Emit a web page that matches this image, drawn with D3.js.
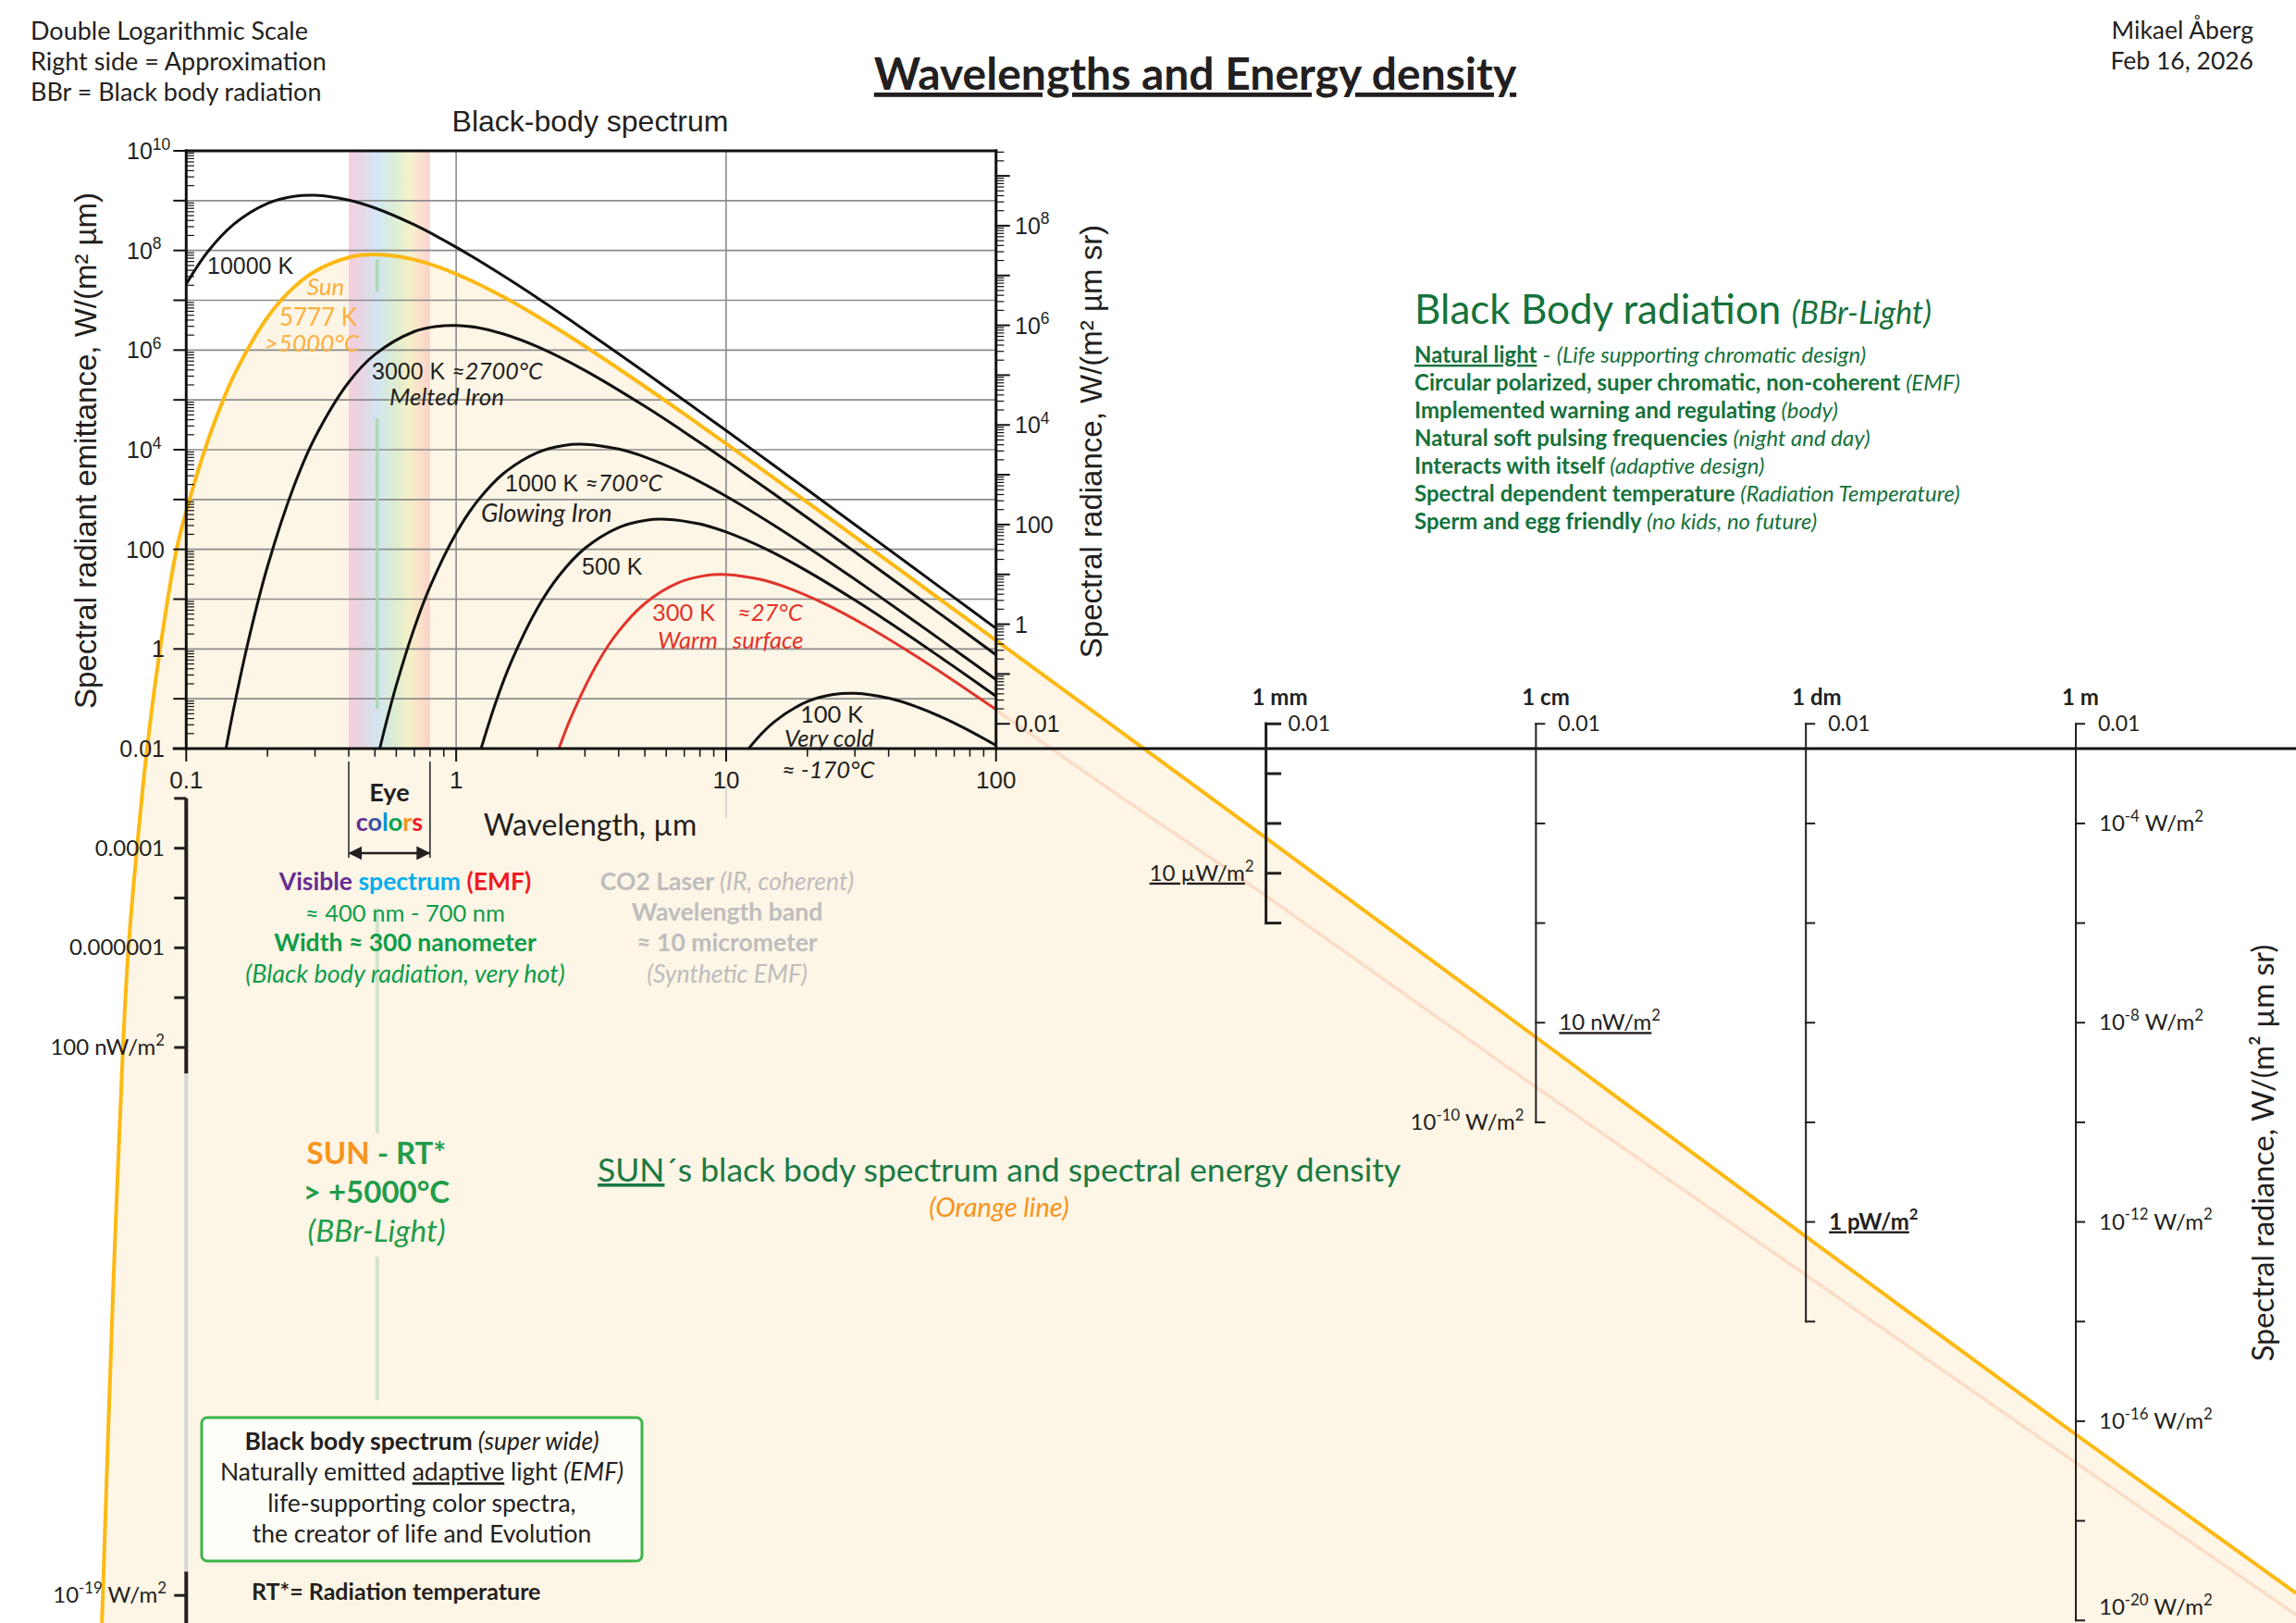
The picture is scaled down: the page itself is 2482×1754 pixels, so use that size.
<!DOCTYPE html>
<html><head><meta charset="utf-8">
<script src="https://cdn.jsdelivr.net/npm/d3@7/dist/d3.min.js"></script>
<style>html,body{margin:0;padding:0;background:#fff}svg{display:block}</style>
</head><body>
<svg id="chart" width="2482" height="1754" xmlns="http://www.w3.org/2000/svg"></svg>
<script>
// ================= DATA =================
const wavelengthTicks = [0.1, 1, 10, 100];
const wavelengthTickLabels = ['0.1', '1', '10', '100'];
const emittanceTicks = [1e10, 1e8, 1e6, 1e4, 100, 1, 0.01];
const emittanceTickLabels = [['10','10'], ['10','8'], ['10','6'], ['10','4'], ['100'], ['1'], ['0.01']];
const radianceTicks = [1e8, 1e6, 1e4, 100, 1, 0.01];
const radianceTickLabels = [['10','8'], ['10','6'], ['10','4'], ['100'], ['1'], ['0.01']];

// black-body curves: [wavelength µm, spectral radiant emittance W/(m² µm)]
const bb10000K = [[0.1,2.11e7],[0.12,9.34e7],[0.15,3.36e8],[0.2,8.79e8],[0.25,1.217e9],[0.3,1.283e9],[0.4,1.029e9],[0.5,7.13e8],[0.7,3.27e8],[1,1.163e8],[1.5,3.06e7],[2,1.11e7],[3,2.5e6],[5,3.59e5],[7,9.75e4],[10,2.42e4],[15,4893],[20,1567],[30,313.5],[50,41.0],[70,10.72],[100,2.582]];
const sunSpectrum = [[0.0487,2.8e-20],[0.0491,1e-19],[0.0535,1e-13],[0.0583,1e-8],[0.0611,1e-6],[0.0657,1e-4],[0.0716,0.01],[0.080,1.0],[0.0922,103],
  [0.1,571],[0.11,3416],[0.12,1.46e4],[0.13,4.8e4],[0.15,3.04e5],[0.2,4.57e6],[0.25,1.81e7],[0.3,3.82e7],[0.4,7.24e7],[0.5,8.28e7],[0.7,6.53e7],[1,3.38e7],[1.5,1.157e7],[2,4.72e6],[3,1.19e6],[5,1.854e5],[7,5.21e4],[10,1.323e4],[15,2728],[20,881.6],[30,177.9],[50,23.44],[70,6.146],[100,1.484],
  [200,0.095],[500,2.5e-3],[1000,1.6e-4],[1e4,1.6e-8],[1e5,1.6e-12],[1e6,1.7e-16],[6.55e6,1.1e-19]];
const bb3000K = [[0.14,9.15e-3],[0.15,0.0642],[0.17,1.47],[0.2,45.1],[0.25,1790],[0.3,1.758e4],[0.4,2.27e5],[0.5,8.17e5],[0.7,2.36e6],[0.85,3.0e6],[1,3.12e6],[1.2,2.82e6],[1.5,2.10e6],[2,1.169e6],[3,3.9e5],[5,7.44e4],[7,2.262e4],[10,6080],[15,1308],[20,431],[30,88.8],[50,11.89],[70,3.14],[100,0.762]];
const bb1000K = [[0.52,9.5e-3],[0.55,0.0323],[0.6,0.186],[0.7,2.65],[0.8,17.7],[1,211],[1.2,934],[1.5,3363],[2,8790],[2.5,1.217e4],[3,1.283e4],[4,1.029e4],[5,7134],[7,3269],[10,1163],[15,306],[20,111],[30,25.0],[50,3.59],[70,0.975],[100,0.2419]];
const bb500K = [[1.2,5.8e-3],[1.4,0.0828],[1.6,0.553],[2,6.59],[2.4,29.2],[3,105],[4,275],[5,380],[6,401],[8,322],[10,223],[14,102],[20,36.3],[30,9.56],[40,3.47],[50,1.54],[60,0.781],[70,0.438],[100,0.112]];
const bb300K = [[2.333,6.44e-3],[2.667,0.043],[3.333,0.513],[4,2.27],[5,8.17],[6.667,21.4],[8.333,29.6],[10,31.2],[13.33,25.0],[16.67,17.3],[23.33,7.94],[33.33,2.83],[50,0.744],[66.67,0.270],[100,0.0608]];
const bb100K = [[10,2.11e-3],[12,9.34e-3],[15,0.0336],[20,0.0879],[25,0.1217],[30,0.1283],[40,0.1029],[50,0.0713],[70,0.0327],[100,0.01163]];
const faintEcho = [[100,0.06],[264.7,1.5e-3],[1000,1.1e-5],[1e4,1.6e-9],[1e5,2.7e-13],[1e6,4.6e-17],[6.55e6,4.1e-20]];

// extended left emittance axis
const lowerEmittanceTicks = [1e-3, 1e-4, 1e-5, 1e-6, 1e-7, 1e-8];
const lowerEmittanceLabels = [[1e-4, '0.0001'], [1e-6, '0.000001'], [1e-8, '100 nW/m', '2']];

// distance scales (radiance, W/(m² µm sr))
const scaleAxes = [
  {name:'1 mm', at:1e3, ticks:[1e-2,1e-3,1e-4,1e-5,1e-6], heavy:true},
  {name:'1 cm', at:1e4, ticks:[1e-2,1e-4,1e-6,1e-8,1e-10]},
  {name:'1 dm', at:1e5, ticks:[1e-2,1e-4,1e-6,1e-8,1e-10,1e-12,1e-14]},
  {name:'1 m',  at:1e6, ticks:[1e-2,1e-4,1e-6,1e-8,1e-10,1e-12,1e-14,1e-16,1e-18,1e-20]}
];
const scaleTickLabels = [
  {at:1e3, v:1e-5,  side:-1, parts:[{t:'10 µW/m',u:true},{t:'2',sup:true}]},
  {at:1e4, v:1e-8,  side:1,  parts:[{t:'10 nW/m',u:true},{t:'2',sup:true}]},
  {at:1e4, v:1e-10, side:-1, parts:[{t:'10'},{t:'-10',sup:true},{t:' W/m'},{t:'2',sup:true}]},
  {at:1e5, v:1e-12, side:1,  parts:[{t:'1 pW/m',u:true,b:true},{t:'2',sup:true,b:true}]},
  {at:1e6, v:1e-4,  side:1,  parts:[{t:'10'},{t:'-4',sup:true},{t:' W/m'},{t:'2',sup:true}]},
  {at:1e6, v:1e-8,  side:1,  parts:[{t:'10'},{t:'-8',sup:true},{t:' W/m'},{t:'2',sup:true}]},
  {at:1e6, v:1e-12, side:1,  parts:[{t:'10'},{t:'-12',sup:true},{t:' W/m'},{t:'2',sup:true}]},
  {at:1e6, v:1e-16, side:1,  parts:[{t:'10'},{t:'-16',sup:true},{t:' W/m'},{t:'2',sup:true}]},
  {at:1e6, v:1e-20, side:1,  raise:true, parts:[{t:'10'},{t:'-20',sup:true},{t:' W/m'},{t:'2',sup:true}]}
];

const bbrFeatures = [
  [{t:'Natural light',u:true,b:true},{t:' - '},{t:'(Life supporting chromatic design)',i:true}],
  [{t:'Circular polarized, super chromatic, non-coherent ',b:true},{t:'(EMF)',i:true}],
  [{t:'Implemented warning and regulating ',b:true},{t:'(body)',i:true}],
  [{t:'Natural soft pulsing frequencies ',b:true},{t:'(night and day)',i:true}],
  [{t:'Interacts with itself ',b:true},{t:'(adaptive design)',i:true}],
  [{t:'Spectral dependent temperature ',b:true},{t:'(Radiation Temperature)',i:true}],
  [{t:'Sperm and egg friendly ',b:true},{t:'(no kids, no future)',i:true}]
];

// ================= SETUP =================
const W = 2482, H = 1754;
const svg = d3.select('#chart');
const FM = "Lato, 'Open Sans', 'DejaVu Sans', sans-serif";
const FA = "'Liberation Sans', Arial, sans-serif";
const INK = '#231f20';
const DGREEN = '#15723c', GREEN = '#0f9d4a', ORANGE = '#f7941d';

const x = d3.scaleLog().domain([0.1, 1e6]).range([201.3, 2244]);
const y = d3.scaleLog().domain([1e-2, 1e10]).range([809, 163]);
const yRad = d3.scaleLog().domain([1e-2 / Math.PI, 1e10 / Math.PI]).range([809, 163]);
const X0 = x(0.1), X1 = x(100), Y0 = y(0.01), Y1 = y(1e10);

function T(g, px, py, parts, o = {}) {
  const size = o.size || 24;
  const t = g.append('text').attr('x', px).attr('y', py)
    .attr('font-family', o.family || FM).attr('font-size', size)
    .attr('fill', o.fill || INK).attr('text-anchor', o.anchor || 'start');
  if (o.weight) t.attr('font-weight', o.weight);
  if (o.italic) t.attr('font-style', 'italic');
  if (o.rotate) t.attr('transform', `rotate(${o.rotate} ${px} ${py})`);
  let shift = 0;
  (Array.isArray(parts) ? parts : [parts]).forEach(p => {
    if (typeof p === 'string') p = {t: p};
    const s = t.append('tspan').text(p.t);
    if (p.fill) s.attr('fill', p.fill);
    if (p.b) s.attr('font-weight', 700);
    if (p.n) s.attr('font-weight', 400);
    if (p.i) s.attr('font-style', 'italic');
    if (p.u) s.attr('text-decoration', 'underline');
    if (p.f) s.attr('font-family', p.f);
    if (p.size) s.attr('font-size', p.size);
    const want = p.sup ? -size * 0.42 : 0;
    if (want !== shift) { s.attr('dy', want - shift); shift = want; }
    if (p.sup) s.attr('font-size', size * 0.7);
  });
  return t;
}

const defs = svg.append('defs');
defs.append('clipPath').attr('id', 'insetClip').append('rect')
  .attr('x', X0).attr('y', Y1).attr('width', X1 - X0).attr('height', Y0 - Y1);
const grad = defs.append('linearGradient').attr('id', 'rainbow').attr('x1', '0').attr('x2', '1').attr('y1', '0').attr('y2', '0');
[['0%','#f3c4d7'],['18%','#dfcfe4'],['36%','#c8e2f3'],['55%','#d2eacd'],['75%','#f2efc0'],['90%','#fbd8c3'],['100%','#f8c9c3']]
  .forEach(([o, c]) => grad.append('stop').attr('offset', o).attr('stop-color', c));
defs.append('marker').attr('id', 'arr').attr('viewBox', '0 0 10 10').attr('refX', 9).attr('refY', 5)
  .attr('markerWidth', 6).attr('markerHeight', 6).attr('orient', 'auto-start-reverse')
  .append('path').attr('d', 'M0,0 L10,5 L0,10 z').attr('fill', INK);

svg.append('rect').attr('width', W).attr('height', H).attr('fill', '#fff');

const line = d3.line().x(d => x(d[0])).y(d => y(d[1])).curve(d3.curveCatmullRom.alpha(0.5));
const area = d3.area().x(d => x(d[0])).y0(H).y1(d => y(d[1])).curve(d3.curveCatmullRom.alpha(0.5));

// cream fill under the Sun curve
svg.append('path').datum(sunSpectrum).attr('d', area).attr('fill', '#fdf5e5');

// visible band
svg.append('rect').attr('x', x(0.4)).attr('y', Y1).attr('width', x(0.8) - x(0.4)).attr('height', Y0 - Y1)
  .attr('fill', 'url(#rainbow)').attr('opacity', 0.8);

// grid
const grid = svg.append('g').attr('stroke', '#8c8c8c').attr('stroke-width', 1.6);
d3.range(-1, 10).forEach(e => grid.append('line').attr('x1', X0).attr('x2', X1).attr('y1', y(Math.pow(10, e))).attr('y2', y(Math.pow(10, e))));
[1, 10].forEach(v => grid.append('line').attr('x1', x(v)).attr('x2', x(v)).attr('y1', Y1).attr('y2', Y0));

// light green marker segments at ~0.51 µm
const markerInset = [[6.5e7, 1.45e7], [4.3e4, 0.063]];
const markerLower = [[6.4e-6, 1.9e-10], [6.3e-13, 8.3e-16]];
markerInset.forEach(([a, b]) => svg.append('line').attr('x1', x(0.51)).attr('x2', x(0.51)).attr('y1', y(a)).attr('y2', y(b))
  .attr('stroke', '#a8d4ad').attr('stroke-width', 4).attr('opacity', 0.75));
markerLower.forEach(([a, b]) => svg.append('line').attr('x1', x(0.51)).attr('x2', x(0.51)).attr('y1', y(a)).attr('y2', y(b))
  .attr('stroke', '#d4e2cb').attr('stroke-width', 4));
svg.append('line').attr('x1', x(10)).attr('x2', x(10)).attr('y1', y(2e-3)).attr('y2', y(4e-4)).attr('stroke', '#cfcfcf').attr('stroke-width', 1.5);

// faint echo line
svg.append('path').datum(faintEcho).attr('d', line).attr('fill', 'none').attr('stroke', '#fbdcc6').attr('stroke-width', 3.5);

// curves
const curves = svg.append('g').attr('clip-path', 'url(#insetClip)').attr('fill', 'none').attr('stroke-width', 3);
[[bb10000K, '#111'], [bb3000K, '#111'], [bb1000K, '#111'], [bb500K, '#111'], [bb300K, '#e2342b'], [bb100K, '#111']]
  .forEach(([d, c]) => curves.append('path').datum(d).attr('d', line).attr('stroke', c));
svg.append('path').datum(sunSpectrum).attr('d', line).attr('fill', 'none').attr('stroke', '#fdb913').attr('stroke-width', 4);

// ================= INSET AXES =================
const ax = svg.append('g').attr('stroke', '#111').attr('stroke-linecap', 'square');
ax.append('line').attr('x1', X0).attr('x2', X1).attr('y1', Y1).attr('y2', Y1).attr('stroke-width', 3);
ax.append('line').attr('x1', X0).attr('x2', X0).attr('y1', Y1).attr('y2', Y0).attr('stroke-width', 3);
ax.append('line').attr('x1', X1).attr('x2', X1).attr('y1', Y1).attr('y2', Y0).attr('stroke-width', 3);
ax.append('line').attr('x1', X0 - 13).attr('x2', W).attr('y1', Y0).attr('y2', Y0).attr('stroke-width', 3);
d3.range(-2, 11).forEach(e => ax.append('line').attr('x1', X0 - 13).attr('x2', X0).attr('y1', y(Math.pow(10, e))).attr('y2', y(Math.pow(10, e))).attr('stroke-width', 2));
d3.range(-2, 10).forEach(e => d3.range(2, 10).forEach(k => {
  const yy = y(k * Math.pow(10, e));
  ax.append('line').attr('x1', X0).attr('x2', X0 + 8).attr('y1', yy).attr('y2', yy).attr('stroke-width', 1.2);
}));
d3.range(-2, 10).forEach(e => {
  const yy = yRad(Math.pow(10, e));
  if (yy >= Y1 && yy <= Y0) ax.append('line').attr('x1', X1).attr('x2', X1 + 14).attr('y1', yy).attr('y2', yy).attr('stroke-width', 2);
  d3.range(2, 10).forEach(k => {
    const y2 = yRad(k * Math.pow(10, e));
    if (y2 >= Y1 && y2 <= Y0) ax.append('line').attr('x1', X1).attr('x2', X1 + 8).attr('y1', y2).attr('y2', y2).attr('stroke-width', 1.2);
  });
});
d3.range(-1, 2).forEach(e => d3.range(2, 10).forEach(k => {
  const xx = x(k * Math.pow(10, e));
  ax.append('line').attr('x1', xx).attr('x2', xx).attr('y1', Y0).attr('y2', Y0 + 8).attr('stroke-width', 1.5);
}));
wavelengthTicks.forEach(v => ax.append('line').attr('x1', x(v)).attr('x2', x(v)).attr('y1', Y0).attr('y2', Y0 + 13).attr('stroke-width', 2));

// ================= EXTENDED LEFT AXIS =================
const la = svg.append('g').attr('stroke', INK);
la.append('line').attr('x1', X0).attr('x2', X0).attr('y1', y(1e-3)).attr('y2', y(3e-9)).attr('stroke-width', 4);
la.append('line').attr('x1', X0).attr('x2', X0).attr('y1', y(3e-9)).attr('y2', y(3e-19)).attr('stroke', '#d6d6d6').attr('stroke-width', 4);
la.append('line').attr('x1', X0).attr('x2', X0).attr('y1', y(3e-19)).attr('y2', H).attr('stroke-width', 4);
lowerEmittanceTicks.concat([1e-19]).forEach(v => la.append('line').attr('x1', X0 - 13).attr('x2', X0).attr('y1', y(v)).attr('y2', y(v)).attr('stroke-width', 3));

// ================= DISTANCE SCALES (marks) =================
scaleAxes.forEach(a => {
  const xx = x(a.at);
  const g = svg.append('g').attr('stroke', INK).attr('stroke-linecap', 'square');
  const sw = a.heavy ? 3 : 2;
  g.append('line').attr('x1', xx).attr('x2', xx).attr('y1', yRad(a.ticks[0])).attr('y2', yRad(a.ticks[a.ticks.length - 1])).attr('stroke-width', sw);
  a.ticks.forEach(v => g.append('line').attr('x1', xx).attr('x2', xx + (a.heavy ? 15 : 9)).attr('y1', yRad(v)).attr('y2', yRad(v)).attr('stroke-width', sw));
});

// eye-colors bracket
const eg = svg.append('g').attr('stroke', INK).attr('stroke-width', 1.5);
[0.4, 0.8].forEach(v => eg.append('line').attr('x1', x(v)).attr('x2', x(v)).attr('y1', Y0 + 14).attr('y2', Y0 + 118));
eg.append('line').attr('x1', x(0.4) + 1).attr('x2', x(0.8) - 1).attr('y1', y(8e-5)).attr('y2', y(8e-5)).attr('stroke-width', 2.5)
  .attr('marker-start', 'url(#arr)').attr('marker-end', 'url(#arr)');

// green framed box (behind its text)
svg.append('rect').attr('x', 218).attr('y', 1532).attr('width', 476).attr('height', 155).attr('rx', 6)
  .attr('fill', '#fffdf8').attr('stroke', '#3db54a').attr('stroke-width', 3);

// ================= TEXT =================
const lab = svg.append('g');
emittanceTicks.forEach((v, i) => {
  const L = emittanceTickLabels[i];
  if (L.length === 2) T(lab, 137, y(v) + 9, [{t: L[0]}, {t: L[1], sup: true}], {family: FA, size: 25});
  else T(lab, 178, y(v) + 9, L[0], {family: FA, size: 25, anchor: 'end'});
});
radianceTicks.forEach((v, i) => {
  const L = radianceTickLabels[i];
  T(lab, 1097, yRad(v) + 9, L.length === 2 ? [{t: L[0]}, {t: L[1], sup: true}] : L[0], {family: FA, size: 25});
});
wavelengthTicks.forEach((v, i) => T(lab, x(v), 852, wavelengthTickLabels[i], {family: FA, size: 26, anchor: 'middle'}));

T(lab, 638, 142, 'Black-body spectrum', {family: FA, size: 32, anchor: 'middle'});
T(lab, 104, 487, 'Spectral radiant emittance, W/(m² µm)', {family: FA, size: 33, anchor: 'middle', rotate: -90});
T(lab, 1191, 477, 'Spectral radiance, W/(m² µm sr)', {family: FA, size: 33, anchor: 'middle', rotate: -90});
T(lab, 638, 903, 'Wavelength, µm', {size: 32, anchor: 'middle'});

T(lab, 224, 296, '10000 K', {family: FA, size: 25});
T(lab, 352, 319, 'Sun', {size: 26, anchor: 'middle', italic: true, fill: '#fbb040'});
T(lab, 344, 352, '5777 K', {size: 26, anchor: 'middle', fill: '#fbb040'});
T(lab, 337, 380, '>5000°C', {size: 26, anchor: 'middle', italic: true, fill: '#fbb040'});
T(lab, 402, 410, [{t: '3000 K ', f: FA}, {t: '≈2700°C', i: true}], {size: 25});
T(lab, 421, 438, 'Melted Iron', {size: 26, italic: true});
T(lab, 546, 531, [{t: '1000 K ', f: FA}, {t: '≈700°C', i: true}], {size: 25});
T(lab, 520, 564, 'Glowing Iron', {size: 27, italic: true});
T(lab, 629, 621, '500 K', {family: FA, size: 25});
T(lab, 705, 671, '300 K', {size: 25.5, fill: '#e2342b'});
T(lab, 797, 671, '≈27°C', {size: 25.5, italic: true, fill: '#e2342b'});
T(lab, 711, 701, 'Warm', {size: 25.5, italic: true, fill: '#e2342b'});
T(lab, 792, 701, 'surface', {size: 25.5, italic: true, fill: '#e2342b'});
T(lab, 865, 781, '100 K', {size: 25.5});
T(lab, 848, 807, 'Very cold', {size: 25.5, italic: true});
T(lab, 845, 841, '≈ -170°C', {size: 25.5, italic: true});

lowerEmittanceLabels.forEach(L => {
  T(lab, 178, y(L[0]) + 8, L.length === 3 ? [{t: L[1]}, {t: L[2], sup: true}] : L[1], {size: 24, anchor: 'end'});
});
T(lab, 180, y(1e-19) + 8, [{t: '10'}, {t: '-19', sup: true}, {t: ' W/m'}, {t: '2', sup: true}], {size: 24, anchor: 'end'});

scaleAxes.forEach(a => {
  const xx = x(a.at);
  T(lab, xx - 15, 762, a.name, {size: 24, weight: 700});
  T(lab, xx + 24, yRad(0.01) + 8, '0.01', {size: 23});
});
scaleTickLabels.forEach(L => {
  const xx = x(L.at) + (L.side > 0 ? 25 : -13);
  T(lab, xx, yRad(L.v) + (L.raise ? -6 : 8), L.parts, {size: 24, anchor: L.side > 0 ? 'start' : 'end'});
});
T(lab, 2458, 1246, 'Spectral radiance, W/(m² µm sr)', {size: 32.5, anchor: 'middle', rotate: -90});

const EYEX = (x(0.4) + x(0.8)) / 2;
T(lab, EYEX, 866, 'Eye', {size: 27, anchor: 'middle', weight: 700});
T(lab, EYEX, 898, [{t: 'c', fill: '#662d91'}, {t: 'o', fill: '#3a53a4'}, {t: 'l', fill: '#0095da'}, {t: 'o', fill: '#00a651'}, {t: 'r', fill: '#f7941d'}, {t: 's', fill: '#ed1c24'}], {size: 27, anchor: 'middle', weight: 700});

T(lab, 438, 962, [{t: 'Visible ', fill: '#662d91'}, {t: 'spectrum ', fill: '#00aeef'}, {t: '(EMF)', fill: '#ed1c24'}], {size: 26.5, anchor: 'middle', weight: 700});
T(lab, 438, 996, '≈ 400 nm - 700 nm', {size: 25.5, anchor: 'middle', fill: GREEN});
T(lab, 438, 1028, 'Width ≈ 300 nanometer', {size: 26.5, anchor: 'middle', fill: GREEN, weight: 700});
T(lab, 438, 1062, '(Black body radiation, very hot)', {size: 27, anchor: 'middle', fill: GREEN, italic: true});

const GR = '#bdbdbd';
T(lab, 786, 962, [{t: 'CO2 Laser ', b: true}, {t: '(IR, coherent)', i: true}], {size: 26.5, anchor: 'middle', fill: GR});
T(lab, 786, 995, 'Wavelength band', {size: 26.5, anchor: 'middle', fill: GR, weight: 700});
T(lab, 786, 1028, '≈ 10 micrometer', {size: 26.5, anchor: 'middle', fill: GR, weight: 700});
T(lab, 786, 1062, '(Synthetic EMF)', {size: 26.5, anchor: 'middle', fill: GR, italic: true});

T(lab, 407, 1258, [{t: 'SUN', fill: ORANGE}, {t: ' - RT*', fill: '#1f9d4c'}], {size: 33, anchor: 'middle', weight: 700});
T(lab, 407, 1300, '> +5000°C', {size: 33, anchor: 'middle', weight: 700, fill: '#1f9d4c'});
T(lab, 407, 1342, '(BBr-Light)', {size: 33.5, anchor: 'middle', italic: true, fill: '#1f9d4c'});

T(lab, 646, 1277, [{t: 'SUN', u: true}, {t: '´s black body spectrum and spectral energy density'}], {size: 35.5, fill: '#1b7a43'});
T(lab, 1080, 1315, '(Orange line)', {size: 29, anchor: 'middle', italic: true, fill: ORANGE});

T(lab, 456, 1567, [{t: 'Black body spectrum', b: true}, {t: ' (super wide)', i: true}], {size: 26.5, anchor: 'middle'});
T(lab, 456, 1600, [{t: 'Naturally emitted '}, {t: 'adaptive', u: true}, {t: ' light '}, {t: '(EMF)', i: true}], {size: 26.5, anchor: 'middle'});
T(lab, 456, 1634, 'life-supporting color spectra,', {size: 26.5, anchor: 'middle'});
T(lab, 456, 1667, 'the creator of life and Evolution', {size: 26.5, anchor: 'middle'});
T(lab, 272, 1729, 'RT*= Radiation temperature', {size: 25, weight: 700});

T(lab, 1529, 350, [{t: 'Black Body radiation '}, {t: '(BBr-Light)', i: true, size: 34}], {size: 44, fill: DGREEN});
bbrFeatures.forEach((parts, i) => T(lab, 1529, 392 + 30 * i, parts, {size: 24, fill: DGREEN}));

T(lab, 33, 43, 'Double Logarithmic Scale', {size: 27});
T(lab, 33, 76, 'Right side = Approximation', {size: 27});
T(lab, 33, 109, 'BBr = Black body radiation', {size: 27});
T(lab, 2436, 42, 'Mikael Åberg', {size: 26.5, anchor: 'end'});
T(lab, 2436, 75, 'Feb 16, 2026', {size: 26.5, anchor: 'end'});
T(lab, 1292, 97, [{t: 'Wavelengths and Energy density', u: true}], {size: 48, anchor: 'middle', weight: 700});
</script>
</body></html>
